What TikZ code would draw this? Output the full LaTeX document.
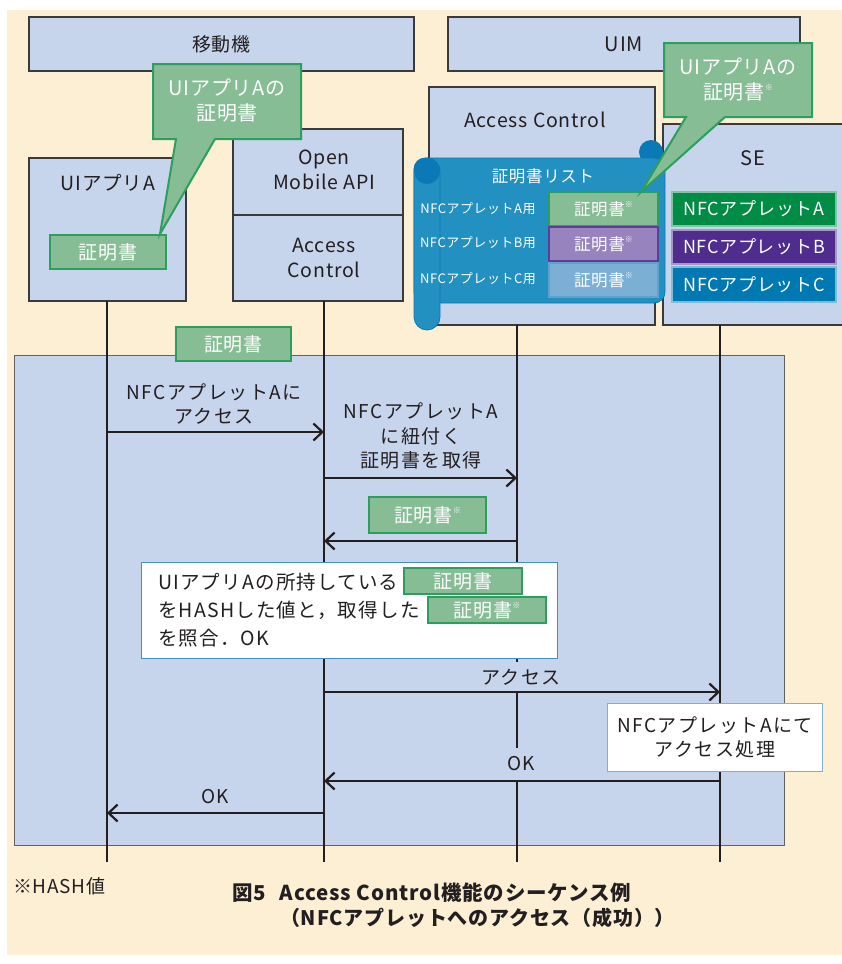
\documentclass[tikz,border=0pt]{standalone}
\usepackage{fontspec}
\setmainfont{Noto Sans CJK JP}[LetterSpace=4]
\usetikzlibrary{arrows.meta}
\definecolor{cream}{HTML}{FDEFD3}
\definecolor{boxf}{HTML}{C6D4EC}
\definecolor{bdr}{HTML}{3A3A3A}
\definecolor{txt}{HTML}{231F20}
\definecolor{gfill}{HTML}{86BD95}
\definecolor{gdr}{HTML}{2E9E5E}
\definecolor{pfill}{HTML}{9784BE}
\definecolor{pdr}{HTML}{5B3F95}
\definecolor{cfill}{HTML}{7BAFD3}
\definecolor{cdr}{HTML}{5FA3CC}
\definecolor{scroll}{HTML}{2390C2}
\definecolor{scrolld}{HTML}{0A7AB6}
\definecolor{seA}{HTML}{008C45}
\definecolor{seB}{HTML}{4F2D8E}
\definecolor{seC}{HTML}{0079B2}
\definecolor{notebd}{HTML}{3E8FCB}
\newcommand{\fsz}[2]{\fontsize{#1}{#2}\selectfont}
\newcommand{\kome}{\raisebox{0.45em}{\fsz{8}{8}※}}
\tikzset{
  box/.style={draw=bdr, fill=boxf, line width=1.1pt, inner sep=0pt, outer sep=0pt, anchor=north west},
  gbox/.style={draw=gdr, fill=gfill, line width=2pt, inner sep=0pt, outer sep=0pt, anchor=north west, text=white, font=\fsz{19}{24}},
  lbl/.style={text=txt, align=center, inner sep=0pt, font=\fsz{19}{24.5}},
  mlbl/.style={text=txt, align=center, inner sep=0pt, font=\fsz{19}{24.5}\addfontfeature{LetterSpace=8}},
  life/.style={line width=2pt, draw=txt},
  msg/.style={line width=2.2pt, draw=txt, -{Straight Barb[length=9pt,width=17pt,line width=2.2pt]}},
  callout/.style={fill=gfill, draw=gdr, line width=2pt, line join=miter},
  scrlbl/.style={text=white, inner sep=0pt, font=\fsz{13}{16}},
  applet/.style={inner sep=0pt, outer sep=0pt, anchor=north west, text=white, font=\fsz{18}{22}, line width=1.5pt, minimum width=164, minimum height=34},
}
\begin{document}
\begin{tikzpicture}[x=1pt,y=-1pt]
\useasboundingbox (0,0) rectangle (842,964);
\fill[white] (0,0) rectangle (842,964);
\fill[cream] (7,10) rectangle (842,955);

% header boxes
\node[box, minimum width=385, minimum height=54] (mobile) at (29,17) {};
\node[lbl] (mobilet) at (mobile.center) {移動機};
\node[box, minimum width=352, minimum height=54] (uim) at (448,17) {};
\node[lbl, font=\fsz{20}{24}] (uimt) at (uim.center) {UIM};

% phone side
\node[box, minimum width=157, minimum height=143] (uiapp) at (29,158) {};
\node[lbl, font=\fsz{19.5}{24}] (uiappt) at (108,183) {UIアプリA};
\node[gbox, minimum width=116, minimum height=34] (cert0) at (50,235) {};
\node[text=white, inner sep=0pt, font=\fsz{19}{24}] (cert0t) at (cert0.center) {証明書};
\node[box, minimum width=170, minimum height=86] (omapi) at (233,129) {};
\node[lbl, font=\fsz{19.5}{25.5}] (omapit) at (324,170) {Open\\Mobile API};
\node[box, minimum width=170, minimum height=86] (ac1) at (233,215) {};
\node[lbl, font=\fsz{19.5}{25.5}] (ac1t) at (324,258) {Access\\Control};

% UIM side
\node[box, minimum width=226, minimum height=238] (ac2) at (429,87) {};
\node[lbl, font=\fsz{19.5}{24}] (ac2t) at (535,120) {Access Control};
\node[box, minimum width=190, minimum height=201] (se) at (663,124) {};
\node[lbl, font=\fsz{20}{24}] (set) at (753,158) {SE};

% scroll
\fill[scrolld] (651,152) circle (12);
\draw[fill=scroll, draw=scrolld, line width=0.8pt, rounded corners=11] (414,158) rectangle (665,303);
\draw[fill=scroll, draw=scrolld, line width=0.8pt, rounded corners=13] (414,158) rectangle (440,330);
\fill[scrolld] (427,171) circle (13);
\node[text=white, inner sep=0pt, font=\fsz{16.5}{20}] (listt) at (543,176) {証明書リスト};
\node[scrlbl] (rowA) at (478,209) {NFCアプレットA用};
\node[scrlbl] (rowB) at (478,243) {NFCアプレットB用};
\node[scrlbl] (rowC) at (478,279) {NFCアプレットC用};
\node[gbox, minimum width=109, minimum height=34, font=\fsz{16.5}{20}] (certA) at (549,192) {証明書\kome};
\node[gbox, draw=pdr, fill=pfill, minimum width=109, minimum height=34, font=\fsz{16.5}{20}] (certB) at (549,227) {証明書\kome};
\node[gbox, draw=cdr, fill=cfill, minimum width=109, minimum height=34, font=\fsz{16.5}{20}] (certC) at (549,263) {証明書\kome};

% SE applets
\node[applet, fill=seA, draw=seA!50!white] (apA) at (672,192) {NFCアプレットA};
\node[applet, fill=seB, draw=seB!50!white] (apB) at (672,230) {NFCアプレットB};
\node[applet, fill=seC, draw=seC!50!white, minimum height=35] (apC) at (672,267) {NFCアプレットC};

% callouts
\draw[callout] (153,64) -- (301,64) -- (301,139) -- (215,139) -- (160,234) -- (176,139) -- (153,139) -- cycle;
\node[text=white, align=center, inner sep=0pt, font=\fsz{20}{25}] (call1) at (227,101) {UIアプリAの\\証明書};
\draw[callout] (664,43) -- (812,43) -- (812,117) -- (725,117) -- (641,192) -- (686,117) -- (664,117) -- cycle;
\node[text=white, align=center, inner sep=0pt, font=\fsz{20}{25}] (call2) at (738,80) {UIアプリAの\\証明書\kome};

% sequence region
\node[box, draw=bdr!80, line width=0.8pt, minimum width=770, minimum height=490] (seq) at (14,355) {};
\node[gbox, minimum width=115, minimum height=34] (certF) at (176,327) {};
\node[text=white, inner sep=0pt, font=\fsz{19}{24}] (certFt) at (certF.center) {証明書};

% lifelines
\coordinate (l1t) at (107,301); \coordinate (l1b) at (107,862);
\coordinate (l2t) at (324,301); \coordinate (l2b) at (324,862);
\coordinate (l3t) at (517,325); \coordinate (l3b) at (517,862);
\coordinate (l4t) at (720,325); \coordinate (l4b) at (720,862);
\draw[life] (l1t) -- (l1b);
\draw[life] (l2t) -- (l2b);
\draw[life] (l3t) -- (l3b);
\draw[life] (l4t) -- (l4b);

% messages
\node[mlbl] (m1) at (214,404) {NFCアプレットAに\\アクセス};
\coordinate (a1s) at (107,432); \coordinate (a1e) at (324,432);
\draw[msg] (a1s) -- (a1e);

\node[mlbl] (m2) at (421,436) {NFCアプレットA\\に紐付く\\証明書を取得};
\coordinate (a2s) at (324,478); \coordinate (a2e) at (517,478);
\draw[msg] (a2s) -- (a2e);

\node[gbox, minimum width=117, minimum height=36] (m3) at (369,497) {証明書\kome};
\coordinate (a3s) at (517,541); \coordinate (a3e) at (324,541);
\draw[msg] (a3s) -- (a3e);

\node[draw=notebd, fill=white, line width=1.2pt, anchor=north west, minimum width=416, minimum height=96, inner sep=0pt] (note) at (141,562) {};
\node[lbl, anchor=west, font=\fsz{19.5}{24}\addfontfeature{LetterSpace=6}] (n1) at (158,582) {UIアプリAの所持している};
\node[gbox, minimum width=118, minimum height=26] (n1c) at (404,568) {証明書};
\node[lbl, anchor=west, font=\fsz{19.5}{24}\addfontfeature{LetterSpace=6}] (n2) at (158,610) {をHASHした値と，取得した};
\node[gbox, minimum width=118, minimum height=26] (n2c) at (428,597) {証明書\kome};
\node[lbl, anchor=west, font=\fsz{19.5}{24}\addfontfeature{LetterSpace=6}] (n3) at (158,638) {を照合．OK};

\node[mlbl, fill=boxf, minimum width=92, minimum height=30] (m5) at (521,677) {アクセス};
\coordinate (a5s) at (324,692); \coordinate (a5e) at (720,692);
\draw[msg] (a5s) -- (a5e);

\node[draw=notebd!70, fill=white, line width=1pt, anchor=north west, minimum width=215, minimum height=68, inner sep=0pt] (proc) at (607,703) {};
\node[mlbl] (proct) at (proc.center) {NFCアプレットAにて\\アクセス処理};

\node[lbl, fill=boxf, minimum width=92, minimum height=33] (m6) at (521,764) {OK};
\coordinate (a6s) at (720,781); \coordinate (a6e) at (324,781);
\draw[msg] (a6s) -- (a6e);

\node[lbl] (m7) at (215,797) {OK};
\coordinate (a7s) at (324,813); \coordinate (a7e) at (107,813);
\draw[msg] (a7s) -- (a7e);

% footnote and caption
\node[lbl, anchor=west, font=\fsz{19}{22}] (foot) at (13,886) {※HASH値};
\node[lbl, anchor=west, font=\bfseries\fsz{20.5}{24}] (cap1) at (232,893) {図5\hspace{14pt}Access Control機能のシーケンス例};
\node[lbl, anchor=west, font=\bfseries\fsz{20}{24}] (cap2) at (280,918) {（NFCアプレットへのアクセス（成功））};
\end{tikzpicture}
\end{document}
